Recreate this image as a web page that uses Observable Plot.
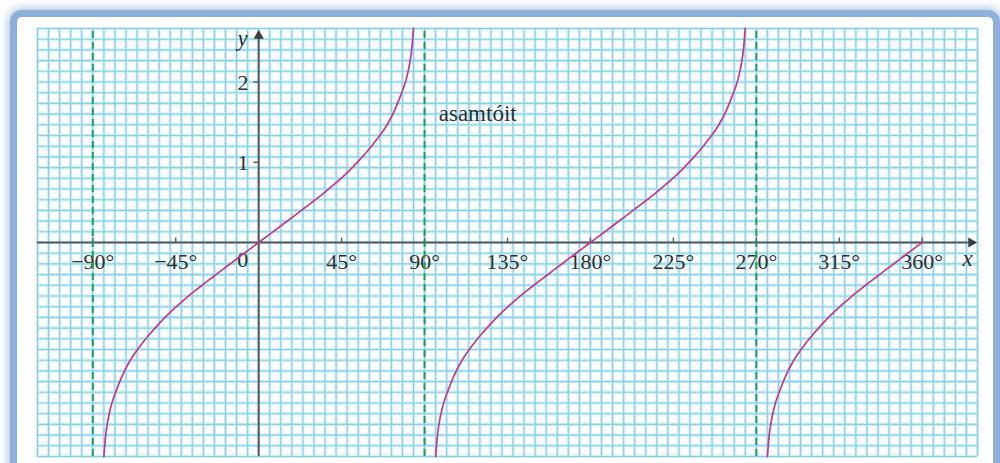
<!DOCTYPE html>
<html><head><meta charset="utf-8">
<script src="https://cdn.jsdelivr.net/npm/d3@7"></script>
<script src="https://cdn.jsdelivr.net/npm/@observablehq/plot@0.6"></script>
<style>
html,body{margin:0;padding:0;background:#fff;width:1000px;height:463px;overflow:hidden;}
#frame{position:absolute;left:10px;top:10px;width:990px;height:560px;box-sizing:border-box;border:7px solid #8eb0d8;border-radius:12px;box-shadow:0 0 8px 2px rgba(142,176,216,0.75);background:#fff;}
#chart{position:absolute;left:0;top:0;}
</style></head>
<body>
<div id="frame"></div>
<div id="chart"></div>
<script>
// data
const xTicks = [-90, -45, 45, 90, 135, 180, 225, 270, 315, 360];
const xTickLabels = ["−90°", "−45°", "45°", "90°", "135°", "180°", "225°", "270°", "315°", "360°"];
const yTicks = [1, 2];
const yTickLabels = ["1", "2"];
const asymptotes = [-90, 90, 270];

const branch1X = [-84,-83,-82,-80,-77,-74,-70,-65,-60,-55,-50,-45,-40,-35,-30,-25,-20,-15,-10,-5,0,5,10,15,20,25,30,35,40,45,50,55,60,65,70,74,77,80,82,83,84];
const branch1Y = [-2.67,-2.4,-2.24,-2.03,-1.83,-1.66,-1.48,-1.31,-1.165,-1.035,-0.915,-0.805,-0.705,-0.61,-0.52,-0.433,-0.345,-0.258,-0.172,-0.086,0,0.086,0.172,0.258,0.345,0.433,0.52,0.61,0.705,0.805,0.915,1.035,1.165,1.31,1.48,1.66,1.83,2.03,2.24,2.4,2.67];
const branch2X = [96,97,98,100,103,106,110,115,120,125,130,135,140,145,150,155,160,165,170,175,180,185,190,195,200,205,210,215,220,225,230,235,240,245,250,254,257,260,262,263,264];
const branch2Y = [-2.67,-2.4,-2.24,-2.03,-1.83,-1.66,-1.48,-1.31,-1.165,-1.035,-0.915,-0.805,-0.705,-0.61,-0.52,-0.433,-0.345,-0.258,-0.172,-0.086,0,0.086,0.172,0.258,0.345,0.433,0.52,0.61,0.705,0.805,0.915,1.035,1.165,1.31,1.48,1.66,1.83,2.03,2.24,2.4,2.67];
const branch3X = [276,277,278,280,283,286,290,295,300,305,310,315,320,325,330,335,340,345,350,355,360];
const branch3Y = [-2.67,-2.4,-2.24,-2.03,-1.83,-1.66,-1.48,-1.31,-1.165,-1.035,-0.915,-0.805,-0.705,-0.61,-0.52,-0.433,-0.345,-0.258,-0.172,-0.086,0];
const noteText = "asamtóit";

const xMin = -120, xMax = 390;
const yMin = -8/3, yMax = 8/3;
const gridX = d3.range(xMin, xMax + 1, 6);
const gridY = d3.range(-20, 21).map(i => i / 7.5);

const toPts = (xs, ys) => xs.map((x, i) => ({x, y: ys[i]}));
const branches = [toPts(branch1X, branch1Y), toPts(branch2X, branch2Y), toPts(branch3X, branch3Y)];

const serif = "Liberation Serif, Times New Roman, serif";
const axisColor = "#55595d";
const textColor = "#2f2f2f";
const magenta = "#c0398f";

const plot = Plot.plot({
  width: 1000, height: 463,
  marginLeft: 37, marginRight: 23, marginTop: 28, marginBottom: 7,
  x: {domain: [xMin, xMax], axis: null},
  y: {domain: [yMin, yMax], axis: null},
  style: {background: "transparent", overflow: "visible"},
  marks: [
    Plot.ruleX(gridX, {y1: yMin, y2: yMax, stroke: "#cdeef8", strokeWidth: 3}),
    Plot.ruleY(gridY, {x1: xMin, x2: xMax, stroke: "#cdeef8", strokeWidth: 3}),
    Plot.ruleX(gridX, {y1: yMin, y2: yMax, stroke: "#86d1e8", strokeWidth: 1.1}),
    Plot.ruleY(gridY, {x1: xMin, x2: xMax, stroke: "#86d1e8", strokeWidth: 1.1}),
    Plot.ruleY([0], {x1: xMin, x2: xMax - 5, stroke: axisColor, strokeWidth: 2}),
    Plot.ruleX([0], {y1: yMin, y2: yMax - 0.12, stroke: axisColor, strokeWidth: 2}),
    Plot.dot([0], {x: () => xMax - 3.4, y: () => 0, symbol: "triangle", rotate: 90, r: 3.8, fill: "#3a3d40", stroke: null}),
    Plot.dot([0], {x: () => 0, y: () => yMax - 0.09, symbol: "triangle", r: 3.8, fill: "#3a3d40", stroke: null}),
    Plot.ruleX(xTicks, {y1: 0, y2: 0.055, stroke: axisColor, strokeWidth: 1.4}),
    Plot.ruleY(yTicks, {x1: -2.6, x2: 0, stroke: axisColor, strokeWidth: 1.4}),
    Plot.text(xTicks, {x: d => d, y: () => 0, text: (d, i) => xTickLabels[i], dy: 19, fontFamily: serif, fontSize: 22, fill: textColor}),
    Plot.text(["0"], {x: () => -8.7, y: () => 0, text: d => d, dy: 17, fontFamily: serif, fontSize: 22, fill: textColor}),
    Plot.text(yTicks, {x: () => -8.5, y: d => d, text: (d, i) => yTickLabels[i], dy: 1, fontFamily: serif, fontSize: 22, fill: textColor}),
    Plot.text(["x"], {x: () => 384.7, y: () => 0, text: d => d, dy: 16, fontFamily: serif, fontSize: 23, fontStyle: "italic", fill: textColor}),
    Plot.text(["y"], {x: () => -8.7, y: () => 2.54, text: d => d, fontFamily: serif, fontSize: 23, fontStyle: "italic", fill: textColor}),
    Plot.text([noteText], {x: () => 97.7, y: () => 1.61, text: d => d, textAnchor: "start", fontFamily: serif, fontSize: 23, fill: textColor}),
    Plot.ruleX(asymptotes, {y1: yMin, y2: yMax, stroke: "#1f9e5a", strokeWidth: 2, strokeDasharray: "7,4"}),
    ...branches.map(b => Plot.line(b, {x: "x", y: "y", curve: "monotone-x", stroke: magenta, strokeWidth: 1.7}))
  ]
});
document.getElementById("chart").append(plot);
</script>
</body></html>
